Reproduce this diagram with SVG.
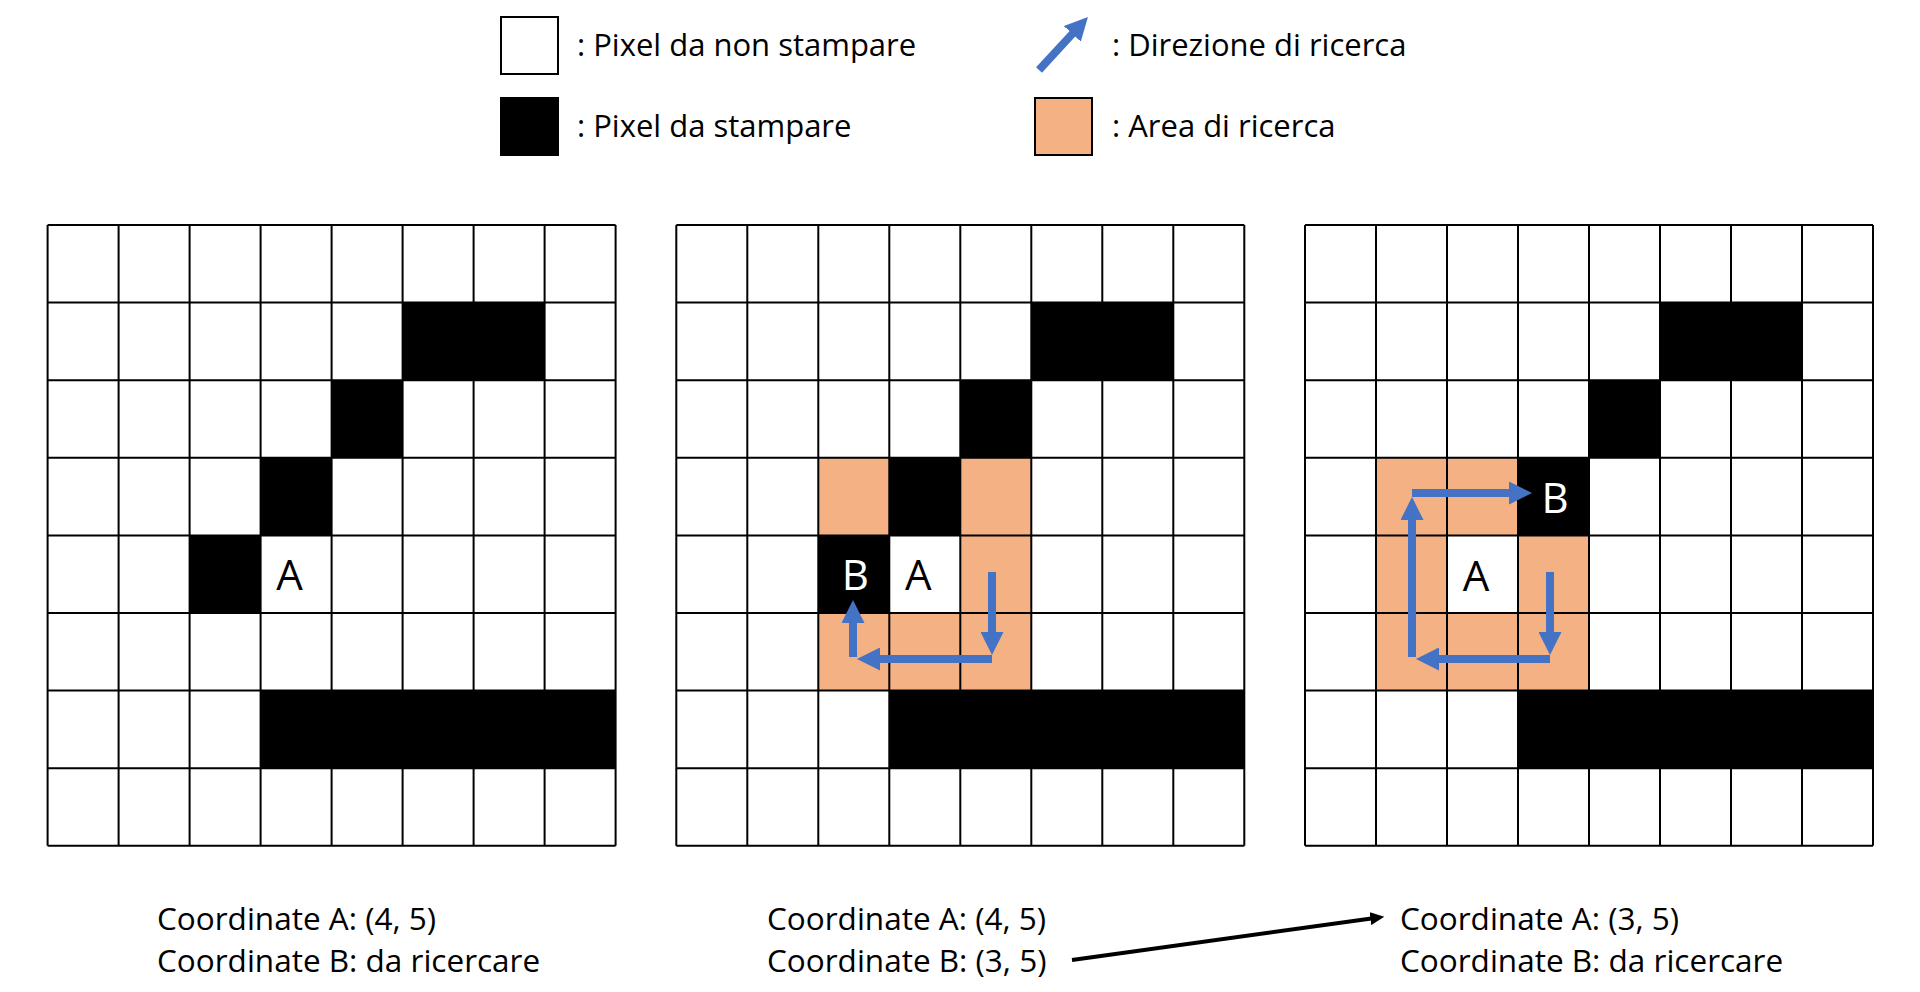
<svg xmlns="http://www.w3.org/2000/svg" xmlns:xlink="http://www.w3.org/1999/xlink" width="1920" height="992" viewBox="0 0 1920 992">
<style>
  text { font-family: "Open Sans", "Noto Sans", "Liberation Sans", sans-serif; fill: #000; }
  .leg { font-size: 31px; }
  .coord { font-size: 31.5px; }
  .cellA { font-size: 42px; text-anchor: middle; }
  .cellB { font-size: 42px; text-anchor: middle; fill: #fff; }
  .blk { fill: #000; }
  .org { fill: #F4B183; }
  .grid { fill: none; stroke: #000; stroke-width: 2; }
  .blue { stroke: #4472C4; stroke-width: 8; fill: none; marker-end: url(#bh); }
  .conn { stroke: #000; stroke-width: 4; fill: none; marker-end: url(#kh); }
</style>
<defs>
  <marker id="bh" markerUnits="userSpaceOnUse" markerWidth="23" markerHeight="23" refX="2" refY="11.5" orient="auto" viewBox="0 0 23 23">
    <path d="M0,0 L23,11.5 L0,23 z" fill="#4472C4"/>
  </marker>
  <marker id="kh" markerUnits="userSpaceOnUse" markerWidth="14" markerHeight="13" refX="1" refY="6.5" orient="auto" viewBox="0 0 14 13">
    <path d="M0,0 L14,6.5 L0,13 z" fill="#000"/>
  </marker>
  <path id="gl" class="grid" d="M0,0 V620.8 M71,0 V620.8 M142,0 V620.8 M213,0 V620.8 M284,0 V620.8 M355,0 V620.8 M426,0 V620.8 M497,0 V620.8 M568,0 V620.8 M0,0 H568 M0,77.6 H568 M0,155.2 H568 M0,232.8 H568 M0,310.4 H568 M0,388 H568 M0,465.6 H568 M0,543.2 H568 M0,620.8 H568"/>
</defs>
<rect width="1920" height="992" fill="#fff"/>

<g id="legend">
  <g id="legend-white">
    <rect x="501" y="17" width="57" height="57" fill="#fff" stroke="#000" stroke-width="2"/>
    <text class="leg" x="577" y="56">: Pixel da non stampare</text>
  </g>
  <g id="legend-black">
    <rect x="500" y="97" width="59" height="59" class="blk"/>
    <text class="leg" x="577" y="137">: Pixel da stampare</text>
  </g>
  <g id="legend-arrow">
    <line class="blue" x1="1039" y1="70" x2="1073.7" y2="32.4"/>
    <text class="leg" x="1112" y="56">: Direzione di ricerca</text>
  </g>
  <g id="legend-orange">
    <rect x="1035" y="98" width="57" height="57" class="org" stroke="#000" stroke-width="2"/>
    <text class="leg" x="1112" y="137">: Area di ricerca</text>
  </g>
</g>

<g id="grid1" transform="translate(47.6,225)">
  <rect class="blk" x="355" y="77.6" width="142" height="77.6"/>
  <rect class="blk" x="284" y="155.2" width="71" height="77.6"/>
  <rect class="blk" x="213" y="232.8" width="71" height="77.6"/>
  <rect class="blk" x="142" y="310.4" width="71" height="77.6"/>
  <rect class="blk" x="213" y="465.6" width="355" height="77.6"/>
  <use xlink:href="#gl"/>
  <text class="cellA" x="242" y="365">A</text>
</g>

<g id="grid2" transform="translate(676.3,225)">
  <rect class="org" x="142" y="232.8" width="71" height="77.6"/>
  <rect class="org" x="284" y="232.8" width="71" height="77.6"/>
  <rect class="org" x="284" y="310.4" width="71" height="77.6"/>
  <rect class="org" x="142" y="388" width="213" height="77.6"/>
  <rect class="blk" x="355" y="77.6" width="142" height="77.6"/>
  <rect class="blk" x="284" y="155.2" width="71" height="77.6"/>
  <rect class="blk" x="213" y="232.8" width="71" height="77.6"/>
  <rect class="blk" x="142" y="310.4" width="71" height="77.6"/>
  <rect class="blk" x="213" y="465.6" width="355" height="77.6"/>
  <use xlink:href="#gl"/>
  <text class="cellB" x="179" y="365">B</text>
  <text class="cellA" x="242" y="365">A</text>
</g>

<g id="grid3" transform="translate(1305,225)">
  <rect class="org" x="71" y="232.8" width="142" height="77.6"/>
  <rect class="org" x="71" y="310.4" width="71" height="77.6"/>
  <rect class="org" x="213" y="310.4" width="71" height="77.6"/>
  <rect class="org" x="71" y="388" width="213" height="77.6"/>
  <rect class="blk" x="355" y="77.6" width="142" height="77.6"/>
  <rect class="blk" x="284" y="155.2" width="71" height="77.6"/>
  <rect class="blk" x="213" y="232.8" width="71" height="77.6"/>
  <rect class="blk" x="213" y="465.6" width="355" height="77.6"/>
  <use xlink:href="#gl"/>
  <text class="cellB" x="250" y="288">B</text>
  <text class="cellA" x="171" y="366">A</text>
</g>

<g id="connectors">
  <line class="blue" x1="992" y1="572" x2="992" y2="634"/>
  <line class="blue" x1="992" y1="659" x2="878" y2="659"/>
  <line class="blue" x1="853" y1="657" x2="853" y2="621"/>
  <line class="blue" x1="1550" y1="572" x2="1550" y2="634"/>
  <line class="blue" x1="1550" y1="659" x2="1437" y2="659"/>
  <line class="blue" x1="1412" y1="657" x2="1412" y2="518"/>
  <line class="blue" x1="1412" y1="493" x2="1511" y2="493"/>
  <line class="conn" x1="1072" y1="960" x2="1371.4" y2="918.5"/>
</g>

<g id="caption1">
  <text class="coord" x="157" y="930">Coordinate A: (4, 5)</text>
  <text class="coord" x="157" y="972">Coordinate B: da ricercare</text>
</g>
<g id="caption2">
  <text class="coord" x="767" y="930">Coordinate A: (4, 5)</text>
  <text class="coord" x="767" y="972">Coordinate B: (3, 5)</text>
</g>
<g id="caption3">
  <text class="coord" x="1400" y="930">Coordinate A: (3, 5)</text>
  <text class="coord" x="1400" y="972">Coordinate B: da ricercare</text>
</g>
</svg>
